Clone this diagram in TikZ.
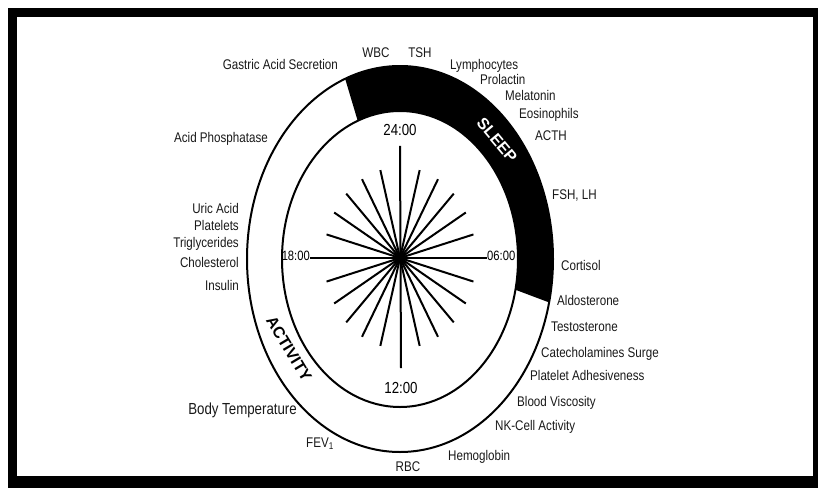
\documentclass[tikz,border=0pt]{standalone}
\usepackage{fontspec}
\setmainfont{Liberation Sans}[FakeStretch=0.83]
\newfontfamily\bandfont{Liberation Sans}
\usepackage{tikz}
\tikzset{
  lbl/.style={font=\fontsize{14}{16}\selectfont,inner sep=0pt,text=black!90},
  clock/.style={font=\fontsize{16}{18}\selectfont,inner sep=0pt},
  band/.style={font=\bandfont\bfseries\fontsize{16}{18}\selectfont,inner sep=0pt},
  spoke/.style={line width=2pt},
  rim/.style={line width=2pt},
}

\begin{document}
\begin{tikzpicture}[x=1pt,y=1pt]
\useasboundingbox (-400,-229) rectangle (418,259);
\fill[white] (-400,-229) rectangle (418,259);
\fill[black] (-392,-229) rectangle (418,251);
\fill[white] (-383,-217) rectangle (413,242);

\fill (111:153 and 193) arc[start angle=111,end angle=-13,x radius=153,y radius=193]
  -- (-12:118 and 148) arc[start angle=-12,end angle=111,x radius=118,y radius=148] -- cycle;
\draw[rim] (0,0) ellipse[x radius=153,y radius=193];
\draw[rim] (0,0) ellipse[x radius=118,y radius=148];

\node[clock] (t24) at (0,129) {24:00};
\node[clock] (t12) at (1,-129) {12:00};
\node[clock,font=\fontsize{13.5}{16}\selectfont,anchor=mid east] (t18) at (-90,1) {18:00};
\node[clock,font=\fontsize{13.5}{16}\selectfont,anchor=mid west] (t06) at (87,1) {06:00};

\coordinate (hub) at (0,1);
\draw[spoke] ([yshift=-10pt]t24.south) -- ([yshift=14pt]t12.north);
\draw[spoke] (t18.mid east) -- (t06.mid west);
\foreach \q in {0,90,180,270}
  \foreach \a in {15,30,...,75}
    \draw[spoke] (hub) -- ++(\q+\a:76 and 91);

\node[band,text=white,rotate=-50] (slp) at (97,119) {SLEEP};
\node[band,rotate=-59] (act) at (-111,-90) {ACTIVITY};

\node[lbl,anchor=mid east] (gas) at (-62,192) {Gastric Acid Secretion};
\node[lbl,anchor=mid east] (acp) at (-132,119) {Acid Phosphatase};
\node[lbl,anchor=mid east] (uric) at (-161,48) {Uric Acid};
\node[lbl,anchor=mid east] (plt) at (-161,31) {Platelets};
\node[lbl,anchor=mid east] (tgl) at (-161,14) {Triglycerides};
\node[lbl,anchor=mid east] (chol) at (-161,-6) {Cholesterol};
\node[lbl,anchor=mid east] (ins) at (-161,-29) {Insulin};
\node[lbl,font=\fontsize{16}{18}\selectfont,anchor=mid east] (temp) at (-103,-153) {Body Temperature};
\node[lbl,anchor=mid west] (fev) at (-94,-186) {FEV\textsubscript{1}};
\node[lbl] (wbc) at (-24,206) {WBC};
\node[lbl] (tsh) at (20,206) {TSH};
\node[lbl,anchor=mid west] (lym) at (50,192) {Lymphocytes};
\node[lbl,anchor=mid west] (prl) at (80,177) {Prolactin};
\node[lbl,anchor=mid west] (mel) at (105,161) {Melatonin};
\node[lbl,anchor=mid west] (eos) at (119,143) {Eosinophils};
\node[lbl,anchor=mid west] (acth) at (135,121) {ACTH};
\node[lbl,anchor=mid west] (fsh) at (152,62) {FSH, LH};
\node[lbl,anchor=mid west] (cort) at (161,-9) {Cortisol};
\node[lbl,anchor=mid west] (ald) at (157,-44) {Aldosterone};
\node[lbl,anchor=mid west] (tst) at (151,-70) {Testosterone};
\node[lbl,anchor=mid west] (cat) at (141,-96) {Catecholamines Surge};
\node[lbl,anchor=mid west] (pad) at (130,-119) {Platelet Adhesiveness};
\node[lbl,anchor=mid west] (bvs) at (117,-145) {Blood Viscosity};
\node[lbl,anchor=mid west] (nk) at (95,-169) {NK-Cell Activity};
\node[lbl,anchor=mid west] (hgb) at (48,-199) {Hemoglobin};
\node[lbl] (rbc) at (8,-208) {RBC};
\end{tikzpicture}
\end{document}
